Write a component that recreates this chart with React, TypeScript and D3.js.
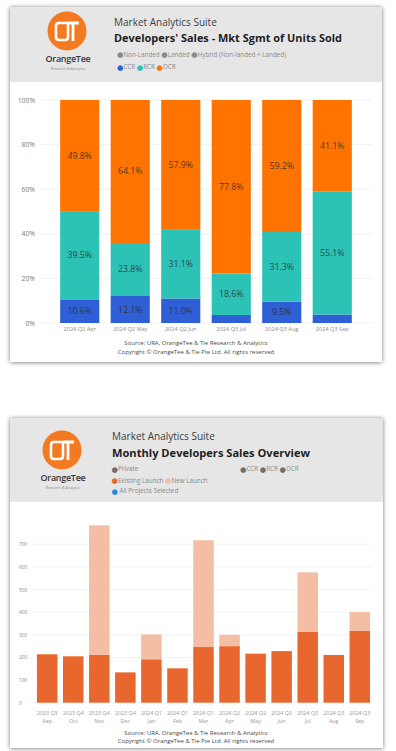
import React from 'react';
import * as d3 from 'd3';

const FONT = '"Open Sans", "Noto Sans", sans-serif';

// Developers' sales, market segment share (%)
const segMonths = ['2024 Q2 Apr', '2024 Q2 May', '2024 Q2 Jun', '2024 Q3 Jul', '2024 Q3 Aug', '2024 Q3 Sep'];
const ccrShare = [10.6, 12.1, 11.0, 3.6, 9.5, 3.8];
const rcrShare = [39.5, 23.8, 31.1, 18.6, 31.3, 55.1];
const ocrShare = [49.8, 64.1, 57.9, 77.8, 59.2, 41.1];
const shareTicks = [0, 0.2, 0.4, 0.6, 0.8, 1];

// Monthly developers sales (units)
const salesQuarters = ['2023 Q3', '2023 Q4', '2023 Q4', '2023 Q4', '2024 Q1', '2024 Q1', '2024 Q1', '2024 Q2', '2024 Q2', '2024 Q2', '2024 Q3', '2024 Q3', '2024 Q3'];
const salesMonths = ['Sep', 'Oct', 'Nov', 'Dec', 'Jan', 'Feb', 'Mar', 'Apr', 'May', 'Jun', 'Jul', 'Aug', 'Sep'];
const existingLaunch = [214, 205, 212, 134, 192, 152, 246, 250, 216, 228, 314, 211, 317];
const newLaunch = [0, 0, 572, 0, 110, 0, 472, 50, 3, 0, 262, 0, 84];
const unitTicks = [0, 100, 200, 300, 400, 500, 600, 700];

const SEG_COLORS = { ccr: '#2f5fd6', rcr: '#2cc2b5', ocr: '#ff7300' };
const LAUNCH_COLORS = { existing: '#e8672f', fresh: '#f3bea4' };

const Logo = ({ cx, cy }: { cx: number; cy: number }) => (
  <g>
    <circle cx={cx} cy={cy} r={19.5} fill="#f37a21" />
    <path
      d={`M${cx + 1},${cy - 8} H${cx - 8} Q${cx - 11},${cy - 8} ${cx - 11},${cy - 5} V${cy + 6} Q${cx - 11},${cy + 9} ${cx - 8},${cy + 9} H${cx - 2} Q${cx + 1},${cy + 9} ${cx + 1},${cy + 6} Z`}
      fill="none" stroke="#fff" strokeWidth={2.6} strokeLinejoin="round" />
    <path d={`M${cx + 1},${cy - 8} H${cx + 12} M${cx + 6},${cy - 8} V${cy + 10}`} stroke="#fff" strokeWidth={2.8} fill="none" />
    <text x={cx + 1} y={cy + 31} textAnchor="middle" fontFamily={FONT} fontWeight={600} fontSize={9} fill="#3a3a3a" letterSpacing={-0.3}>OrangeTee</text>
    <text x={cx + 1} y={cy + 39} textAnchor="middle" fontFamily={FONT} fontSize={3.6} fill="#8a8a8a">Research &amp; Analytics</text>
  </g>
);

const Card = ({ x, y, w, h, headH }: { x: number; y: number; w: number; h: number; headH: number }) => (
  <g>
    <rect x={x} y={y} width={w} height={h} fill="#fff" filter="url(#shadow)" />
    <rect x={x} y={y} width={w} height={headH} fill="#e6e6e6" />
  </g>
);

const Dot = ({ c }: { c: string }) => <tspan fill={c} fontSize={7.3} fontFamily='"DejaVu Sans", sans-serif'>●</tspan>;

function ShareChart() {
  const rows = segMonths.map((m, i) => ({ month: m, ccr: ccrShare[i], rcr: rcrShare[i], ocr: ocrShare[i] }));
  const series = d3.stack<any>().keys(['ccr', 'rcr', 'ocr']).offset(d3.stackOffsetExpand)(rows);
  const x = d3.scaleBand().domain(segMonths).range([43, 369]).paddingInner(0.225).paddingOuter(0.34);
  const y = d3.scaleLinear().domain([0, 1]).range([323, 100]);

  return (
    <g fontFamily={FONT}>
      {shareTicks.map(t => (
        <g key={t}>
          <line x1={40} x2={372} y1={y(t)} y2={y(t)} stroke="#eeeeee" strokeWidth={0.8} />
          <text x={35} y={y(t)} textAnchor="end" dominantBaseline="central" fontSize={6.8} fill="#7a7a7a">{d3.format('.0%')(t)}</text>
        </g>
      ))}
      {series.map(s => (
        <g key={s.key} fill={(SEG_COLORS as any)[s.key]}>
          {s.map((d, i) => (
            <rect key={i} x={x(segMonths[i])} y={y(d[1])} width={x.bandwidth()} height={y(d[0]) - y(d[1])} />
          ))}
        </g>
      ))}
      {series.map(s => s.map((d, i) => {
        const v = (d.data as any)[s.key];
        if (v < 5) return null;
        return (
          <text key={s.key + i} x={(x(segMonths[i]) as number) + x.bandwidth() / 2} y={y((d[0] + d[1]) / 2)}
            textAnchor="middle" dominantBaseline="central" fontSize={8.8} fill="#2b2b2b" fillOpacity={0.85}>
            {v.toFixed(1)}%
          </text>
        );
      }))}
      {segMonths.map(m => (
        <text key={m} x={(x(m) as number) + x.bandwidth() / 2} y={328.5} textAnchor="middle" dominantBaseline="central" fontSize={5.6} fill="#8c8c8c">{m}</text>
      ))}
    </g>
  );
}

function SalesChart() {
  const idx = salesMonths.map((_, i) => String(i));
  const x = d3.scaleBand().domain(idx).range([30, 377]).paddingInner(0.213).paddingOuter(0.267);
  const y = d3.scaleLinear().domain([0, 800]).range([702.7, 521.7]);

  return (
    <g fontFamily={FONT}>
      {unitTicks.map(t => (
        <g key={t}>
          <line x1={30} x2={372} y1={y(t)} y2={y(t)} stroke="#efefef" strokeWidth={0.8} />
          <text x={19} y={y(t)} dominantBaseline="central" fontSize={4.8} fill="#8a8a8a">{t}</text>
        </g>
      ))}
      {idx.map((k, i) => (
        <g key={k}>
          <rect x={x(k)} y={y(existingLaunch[i])} width={x.bandwidth()} height={y(0) - y(existingLaunch[i])} fill={LAUNCH_COLORS.existing} />
          {newLaunch[i] > 0 && (
            <rect x={x(k)} y={y(existingLaunch[i] + newLaunch[i])} width={x.bandwidth()}
              height={y(existingLaunch[i]) - y(existingLaunch[i] + newLaunch[i])} fill={LAUNCH_COLORS.fresh} />
          )}
          <text x={(x(k) as number) + x.bandwidth() / 2} y={712.8} textAnchor="middle" dominantBaseline="central" fontSize={5.4} fill="#999">{salesQuarters[i]}</text>
          <text x={(x(k) as number) + x.bandwidth() / 2} y={720.5} textAnchor="middle" dominantBaseline="central" fontSize={5.4} fill="#999">{salesMonths[i]}</text>
        </g>
      ))}
    </g>
  );
}

export default function App() {
  return (
    <svg width={396} height={751} style={{ position: 'absolute', left: 0, top: 0, background: '#fff' }}>
      <defs>
        <filter id="shadow" x="-10%" y="-10%" width="120%" height="120%">
          <feDropShadow dx={0} dy={0.5} stdDeviation={2.2} floodColor="#000" floodOpacity={0.55} />
        </filter>
      </defs>

      {/* top card */}
      <Card x={10} y={7} w={372} h={355} headH={75} />
      <Logo cx={67} cy={31} />
      <g fontFamily={FONT}>
        <text x={114} y={22} dominantBaseline="central" fontSize={10} fill="#404040">Market Analytics Suite</text>
        <text x={114} y={37.5} dominantBaseline="central" fontSize={11} fontWeight={700} fill="#1e1e1e" textLength={228} lengthAdjust="spacingAndGlyphs">Developers' Sales - Mkt Sgmt of Units Sold</text>
        <text x={117} y={54} dominantBaseline="central" fontSize={6.3} fill="#8a8a8a">
          <Dot c="#8a8a8a" />Non-Landed <Dot c="#8a8a8a" />Landed <Dot c="#8a8a8a" />Hybrid (Non-landed + Landed)
        </text>
        <text x={117} y={66.7} dominantBaseline="central" fontSize={6.3} fill="#8a8a8a">
          <Dot c={SEG_COLORS.ccr} />CCR <Dot c={SEG_COLORS.rcr} />RCR <Dot c={SEG_COLORS.ocr} />OCR
        </text>
      </g>
      <ShareChart />
      <g fontFamily={FONT} fontSize={6} fill="#4a4a4a" textAnchor="middle">
        <text x={196} y={343.3} dominantBaseline="central">Source: URA, OrangeTee &amp; Tie Research &amp; Analytics</text>
        <text x={196} y={352} dominantBaseline="central">Copyright © OrangeTee &amp; Tie Pte Ltd. All rights reserved</text>
      </g>

      {/* bottom card */}
      <Card x={10} y={418} w={373} h={330} headH={84} />
      <Logo cx={62} cy={450} />
      <g fontFamily={FONT}>
        <text x={112} y={436} dominantBaseline="central" fontSize={10} fill="#404040">Market Analytics Suite</text>
        <text x={112} y={452.5} dominantBaseline="central" fontSize={11} fontWeight={700} fill="#1e1e1e" textLength={198} lengthAdjust="spacingAndGlyphs">Monthly Developers Sales Overview</text>
        <text x={111.5} y={468.7} dominantBaseline="central" fontSize={6.3} fill="#8a8a8a">
          <Dot c="#6e6e6e" />Private
        </text>
        <text x={240} y={468.7} dominantBaseline="central" fontSize={6.3} fill="#8a8a8a">
          <Dot c="#6e6e6e" />CCR <Dot c="#6e6e6e" />RCR <Dot c="#6e6e6e" />OCR
        </text>
        <text x={111.5} y={480} dominantBaseline="central" fontSize={6.3} fill="#8a8a8a">
          <Dot c={LAUNCH_COLORS.existing} />Existing Launch <Dot c={LAUNCH_COLORS.fresh} />New Launch
        </text>
        <text x={111.5} y={490.7} dominantBaseline="central" fontSize={6.3} fill="#8a8a8a">
          <Dot c="#1e88e5" /> All Projects Selected
        </text>
      </g>
      <SalesChart />
      <g fontFamily={FONT} fontSize={6} fill="#4a4a4a" textAnchor="middle">
        <text x={196} y={732.7} dominantBaseline="central">Source: URA, OrangeTee &amp; Tie Research &amp; Analytics</text>
        <text x={196} y={740.7} dominantBaseline="central">Copyright © OrangeTee &amp; Tie Pte Ltd. All rights reserved</text>
      </g>
    </svg>
  );
}
